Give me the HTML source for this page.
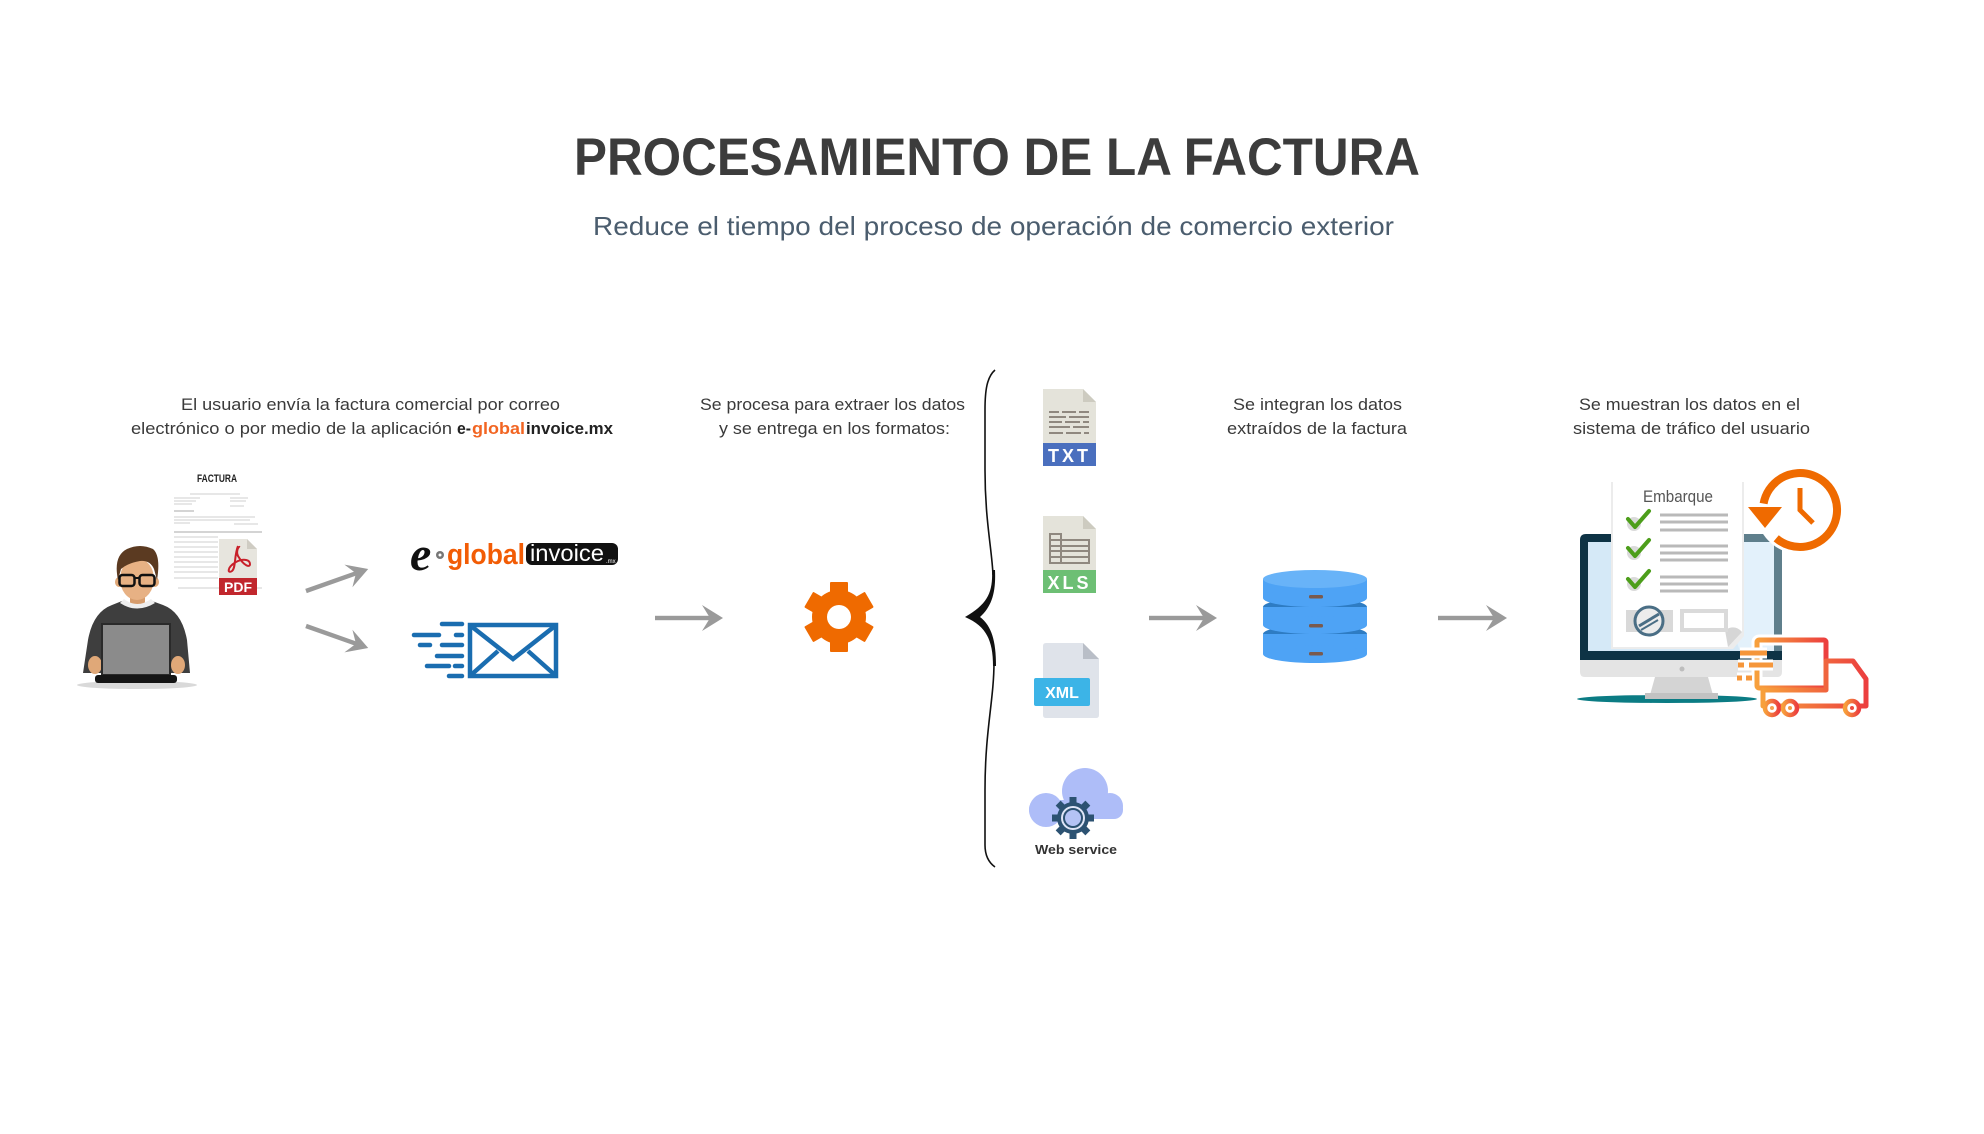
<!DOCTYPE html>
<html><head><meta charset="utf-8"><style>
html,body{margin:0;padding:0;background:#fff;}
svg{display:block;}
text{font-family:"Liberation Sans",sans-serif;}
</style></head><body>
<svg width="1984" height="1134" viewBox="0 0 1984 1134" xmlns="http://www.w3.org/2000/svg">
<defs>
<linearGradient id="tg" x1="0" y1="0" x2="1" y2="0">
<stop offset="0" stop-color="#f7a03c"/><stop offset="1" stop-color="#ec3f3f"/>
</linearGradient>
</defs>
<rect width="1984" height="1134" fill="#fff"/>

<!-- Title -->
<text x="574" y="175" font-size="53" font-weight="bold" fill="#3c3c3c" textLength="846" lengthAdjust="spacingAndGlyphs">PROCESAMIENTO DE LA FACTURA</text>
<text x="593" y="235" font-size="26" fill="#4b5d6e" textLength="801" lengthAdjust="spacingAndGlyphs">Reduce el tiempo del proceso de operación de comercio exterior</text>

<!-- Labels -->
<g font-size="17" fill="#3a3a3a">
<text x="181" y="410" textLength="379" lengthAdjust="spacingAndGlyphs">El usuario envía la factura comercial por correo</text>
<text x="131" y="434" textLength="321" lengthAdjust="spacingAndGlyphs">electrónico o por medio de la aplicación</text>
<text x="457" y="434" font-weight="bold" fill="#222" textLength="14" lengthAdjust="spacingAndGlyphs">e-</text>
<text x="472" y="434" font-weight="bold" fill="#f26522" textLength="53" lengthAdjust="spacingAndGlyphs">global</text>
<text x="526" y="434" font-weight="bold" fill="#222" textLength="87" lengthAdjust="spacingAndGlyphs">invoice.mx</text>
<text x="700" y="410" textLength="265" lengthAdjust="spacingAndGlyphs">Se procesa para extraer los datos</text>
<text x="719" y="434" textLength="231" lengthAdjust="spacingAndGlyphs">y se entrega en los formatos:</text>
<text x="1233" y="410" textLength="169" lengthAdjust="spacingAndGlyphs">Se integran los datos</text>
<text x="1227" y="434" textLength="180" lengthAdjust="spacingAndGlyphs">extraídos de la factura</text>
<text x="1579" y="410" textLength="221" lengthAdjust="spacingAndGlyphs">Se muestran los datos en el</text>
<text x="1573" y="434" textLength="237" lengthAdjust="spacingAndGlyphs">sistema de tráfico del usuario</text>
</g>

<!-- Person -->
<ellipse cx="137" cy="685" rx="60" ry="4" fill="#d9d9d9"/>
<path d="M83 673 L88 640 Q93 612 112 605 L122 601 Q137 610 152 601 L163 605 Q182 612 187 640 L190 673 Z" fill="#3e3e3e"/>
<rect x="130" y="590" width="15" height="14" fill="#d69c6c"/>
<path d="M120 603 Q137 614 155 603 L151 599 Q137 609 124 599 Z" fill="#eeeeee"/>
<ellipse cx="119" cy="582" rx="4" ry="5" fill="#e0a878"/>
<ellipse cx="155" cy="582" rx="4" ry="5" fill="#e0a878"/>
<ellipse cx="137" cy="579" rx="17" ry="21" fill="#e7b184"/>
<path d="M118 580 Q113 556 127 549 Q140 543 153 549 Q161 556 157 580 L154 569 Q150 560 140 561 Q128 563 121 569 Z" fill="#5b3a21"/>
<rect x="119.5" y="575" width="15" height="11" rx="3" fill="none" stroke="#111" stroke-width="2.5"/>
<rect x="139.5" y="575" width="15" height="11" rx="3" fill="none" stroke="#111" stroke-width="2.5"/>
<line x1="134" y1="578" x2="140" y2="578" stroke="#111" stroke-width="2"/>
<ellipse cx="95" cy="665" rx="7" ry="9" fill="#e0a878"/>
<ellipse cx="178" cy="665" rx="7" ry="9" fill="#e0a878"/>
<rect x="102" y="624" width="68" height="51" fill="#8b8b8b" stroke="#2a2a2a" stroke-width="2"/>
<rect x="95" y="675" width="82" height="8" rx="3" fill="#151515"/>

<!-- Factura document -->
<text x="197" y="482" font-size="11" font-weight="bold" fill="#222" textLength="40" lengthAdjust="spacingAndGlyphs">FACTURA</text>
<g stroke="#cfcfcf" stroke-width="1">
<line x1="190" y1="494" x2="240" y2="494"/>
<line x1="174" y1="498" x2="200" y2="498"/><line x1="230" y1="498" x2="248" y2="498"/>
<line x1="174" y1="501" x2="196" y2="501"/><line x1="230" y1="501" x2="246" y2="501"/>
<line x1="174" y1="504" x2="192" y2="504"/><line x1="230" y1="506" x2="244" y2="506"/>
<line x1="174" y1="511" x2="194" y2="511" stroke="#aaa"/>
<line x1="174" y1="517" x2="255" y2="517"/><line x1="174" y1="520" x2="250" y2="520"/>
<line x1="174" y1="523" x2="190" y2="523"/><line x1="234" y1="524" x2="258" y2="524"/>
<line x1="174" y1="532" x2="262" y2="532" stroke="#aaa"/>
<line x1="174" y1="537" x2="218" y2="537"/><line x1="174" y1="542" x2="218" y2="542"/>
<line x1="174" y1="547" x2="218" y2="547"/><line x1="174" y1="552" x2="218" y2="552"/>
<line x1="174" y1="557" x2="218" y2="557"/><line x1="174" y1="562" x2="218" y2="562"/>
<line x1="174" y1="567" x2="218" y2="567"/><line x1="174" y1="572" x2="218" y2="572"/>
<line x1="174" y1="578" x2="218" y2="578"/><line x1="178" y1="588" x2="262" y2="588"/>
</g>
<path d="M219 539 H247 L257 549 V595 H219 Z" fill="#e7e5de"/>
<path d="M247 539 V549 H257 Z" fill="#cfccc3"/>
<path d="M238 546 C234 556 236 568 232 571 C228 574 226 568 236 562 C244 558 250 560 250 564 C250 568 244 566 238 556 C236 552 238 546 240 547" fill="none" stroke="#c8202a" stroke-width="2"/>
<rect x="219" y="578" width="38" height="17" fill="#c1272d"/>
<text x="238" y="592" font-size="14" font-weight="bold" fill="#fff" text-anchor="middle">PDF</text>

<!-- diagonal arrows -->
<g transform="translate(306,591) rotate(-19.5)" fill="#9a9a9a">
<rect x="0" y="-2.2" width="56" height="4.4"/>
<polygon points="66,0 45,-12 53,0 45,12"/>
</g>
<g transform="translate(306,626) rotate(19.5)" fill="#9a9a9a">
<rect x="0" y="-2.2" width="56" height="4.4"/>
<polygon points="66,0 45,-12 53,0 45,12"/>
</g>

<!-- logo -->
<text x="410" y="570" font-family="Liberation Serif,serif" font-size="48" font-style="italic" font-weight="bold" fill="#111" style="font-family:'Liberation Serif',serif">e</text>
<circle cx="440" cy="555" r="4" fill="#777"/><circle cx="440" cy="555" r="1.5" fill="#fff"/>
<text x="447" y="564" font-size="29" font-weight="bold" fill="#f25c05" textLength="78" lengthAdjust="spacingAndGlyphs">global</text>
<rect x="526" y="543" width="92" height="22" rx="6" fill="#111"/>
<text x="530" y="561" font-size="23" fill="#fff" textLength="74" lengthAdjust="spacingAndGlyphs">invoice</text>
<text x="606" y="563" font-size="6" fill="#fff">.mx</text>

<!-- email -->
<g stroke="#1a6db0" stroke-width="4.5" stroke-linecap="round" fill="none">
<line x1="442" y1="624" x2="462" y2="624"/>
<line x1="414" y1="635" x2="439" y2="635"/><line x1="456" y1="635" x2="462" y2="635"/>
<line x1="420" y1="645" x2="430" y2="645"/><line x1="442" y1="645" x2="462" y2="645"/>
<line x1="437" y1="656" x2="462" y2="656"/>
<line x1="427" y1="666" x2="449" y2="666"/><line x1="455" y1="666" x2="462" y2="666"/>
<line x1="449" y1="676" x2="462" y2="676"/>
</g>
<g stroke="#1a6db0" stroke-width="4.5" fill="none" stroke-linejoin="miter">
<rect x="470" y="625" width="86" height="51"/>
<polyline points="471,626 513,659 555,626"/>
<line x1="471" y1="675" x2="498" y2="651"/>
<line x1="555" y1="675" x2="528" y2="651"/>
</g>

<!-- arrow 1 -->
<g fill="#9a9a9a">
<rect x="655" y="615.8" width="58" height="4.4"/>
<polygon points="723,618 702,605 710,618 702,631"/>
<rect x="1149" y="615.8" width="58" height="4.4"/>
<polygon points="1217,618 1196,605 1204,618 1196,631"/>
<rect x="1438" y="615.8" width="58" height="4.4"/>
<polygon points="1507,618 1486,605 1494,618 1486,631"/>
</g>

<!-- orange gear -->
<g transform="translate(839,617)" fill="#ef6a00">
<circle r="27"/>
<rect x="-9" y="-35" width="18" height="14" rx="1"/>
<rect x="-9" y="-35" width="18" height="14" rx="1" transform="rotate(60)"/>
<rect x="-9" y="-35" width="18" height="14" rx="1" transform="rotate(120)"/>
<rect x="-9" y="-35" width="18" height="14" rx="1" transform="rotate(180)"/>
<rect x="-9" y="-35" width="18" height="14" rx="1" transform="rotate(240)"/>
<rect x="-9" y="-35" width="18" height="14" rx="1" transform="rotate(300)"/>
<circle r="12" fill="#fff"/>
</g>

<!-- brace -->
<path d="M995 370 C987 377 985 390 985 410 L985 470 C985 520 992 550 993 575 M994 662 C994 700 985 730 985 790 L985 845 C985 855 988 862 995 867" fill="none" stroke="#111" stroke-width="1.6"/>
<path d="M992 570 C993 592 988 604 965 617 C986 626 993 640 993 666 L996 666 C996 642 992 626 980 617 C992 606 996 592 995 570 Z" fill="#111"/>

<!-- TXT -->
<path d="M1043 389 H1083 L1096 402 V466 H1043 Z" fill="#e4e3da"/>
<path d="M1083 389 V402 H1096 Z" fill="#cdcbc0"/>
<g stroke="#8f887f" stroke-width="2">
<line x1="1049" y1="412" x2="1059" y2="412"/><line x1="1062" y1="412" x2="1076" y2="412"/><line x1="1079" y1="412" x2="1089" y2="412"/>
<line x1="1049" y1="417" x2="1066" y2="417"/><line x1="1069" y1="417" x2="1089" y2="417"/>
<line x1="1049" y1="422" x2="1062" y2="422"/><line x1="1065" y1="422" x2="1080" y2="422"/><line x1="1083" y1="422" x2="1089" y2="422"/>
<line x1="1049" y1="427" x2="1070" y2="427"/><line x1="1073" y1="427" x2="1089" y2="427"/>
<line x1="1049" y1="433" x2="1063" y2="433"/><line x1="1066" y1="433" x2="1081" y2="433"/><line x1="1084" y1="433" x2="1089" y2="433"/>
</g>
<rect x="1043" y="443" width="53" height="23" fill="#4a6fbe"/>
<text x="1069.5" y="462" font-size="18" font-weight="bold" fill="#fff" text-anchor="middle" letter-spacing="3">TXT</text>

<!-- XLS -->
<path d="M1043 516 H1083 L1096 529 V593 H1043 Z" fill="#e4e3da"/>
<path d="M1083 516 V529 H1096 Z" fill="#cdcbc0"/>
<g stroke="#8f887f" stroke-width="2" fill="none">
<rect x="1050" y="534" width="11" height="6"/>
<rect x="1050" y="540" width="39" height="23"/>
<line x1="1050" y1="546" x2="1089" y2="546"/><line x1="1050" y1="551" x2="1089" y2="551"/><line x1="1050" y1="557" x2="1089" y2="557"/>
<line x1="1061" y1="540" x2="1061" y2="563"/>
</g>
<rect x="1043" y="570" width="53" height="23" fill="#6dbf74"/>
<text x="1069.5" y="589" font-size="18" font-weight="bold" fill="#fff" text-anchor="middle" letter-spacing="3">XLS</text>

<!-- XML -->
<path d="M1046 643 H1083 L1099 659 V715 Q1099 718 1096 718 H1046 Q1043 718 1043 715 V646 Q1043 643 1046 643 Z" fill="#dfe3ea"/>
<path d="M1083 643 V659 H1099 Z" fill="#b9bec7"/>
<rect x="1034" y="678" width="56" height="28" rx="2" fill="#3cb4e7"/>
<text x="1062" y="698" font-size="16" font-weight="bold" fill="#fff" text-anchor="middle">XML</text>

<!-- cloud + gear -->
<g fill="#aebdf8">
<circle cx="1085" cy="791" r="23"/>
<circle cx="1046" cy="810" r="17"/>
<circle cx="1110" cy="806" r="13"/>
<rect x="1029" y="800" width="94" height="19" rx="9"/>
</g>
<g transform="translate(1073,818)" fill="#2c5272">
<circle r="16"/>
<rect x="-3.5" y="-21" width="7" height="7" />
<rect x="-3.5" y="-21" width="7" height="7" transform="rotate(45)"/>
<rect x="-3.5" y="-21" width="7" height="7" transform="rotate(90)"/>
<rect x="-3.5" y="-21" width="7" height="7" transform="rotate(135)"/>
<rect x="-3.5" y="-21" width="7" height="7" transform="rotate(180)"/>
<rect x="-3.5" y="-21" width="7" height="7" transform="rotate(225)"/>
<rect x="-3.5" y="-21" width="7" height="7" transform="rotate(270)"/>
<rect x="-3.5" y="-21" width="7" height="7" transform="rotate(315)"/>
<circle r="12" fill="#dfe6f7"/>
<circle r="9" fill="#b4c3f5" stroke="#2c5272" stroke-width="2"/>
</g>
<text x="1035" y="854" font-size="13" font-weight="bold" fill="#333" textLength="82" lengthAdjust="spacingAndGlyphs">Web service</text>

<!-- database -->
<g>
<ellipse cx="1315" cy="634" rx="52" ry="9" fill="#2e7cc3"/>
<rect x="1263" y="634" width="104" height="20" fill="#4ea3f5"/>
<ellipse cx="1315" cy="654" rx="52" ry="9" fill="#4ea3f5"/>
<ellipse cx="1315" cy="607" rx="52" ry="9" fill="#2e7cc3"/>
<rect x="1263" y="607" width="104" height="18" fill="#4ea3f5"/>
<ellipse cx="1315" cy="625" rx="52" ry="9" fill="#4ea3f5"/>
<rect x="1263" y="579" width="104" height="19" fill="#4ea3f5"/>
<ellipse cx="1315" cy="598" rx="52" ry="9" fill="#4ea3f5"/>
<ellipse cx="1315" cy="579" rx="52" ry="9" fill="#68b3f8"/>
<rect x="1309" y="595" width="14" height="3.5" rx="1.5" fill="#7a5a4d"/>
<rect x="1309" y="624" width="14" height="3.5" rx="1.5" fill="#7a5a4d"/>
<rect x="1309" y="652" width="14" height="3.5" rx="1.5" fill="#7a5a4d"/>
</g>

<!-- monitor -->
<ellipse cx="1667" cy="699" rx="90" ry="4" fill="#0b7c84"/>
<polygon points="1655,677 1708,677 1713,695 1650,695" fill="#d4d4d4"/>
<rect x="1645" y="693" width="73" height="6" fill="#c2c2c2"/>
<path d="M1580 660 H1782 V672 Q1782 677 1777 677 H1585 Q1580 677 1580 672 Z" fill="#e4e4e4"/>
<circle cx="1682" cy="669" r="2.5" fill="#bdbdbd"/>
<path d="M1586 534 H1776 Q1782 534 1782 540 V660 H1580 V540 Q1580 534 1586 534 Z" fill="#0e3345"/>
<path d="M1742 534 H1776 Q1782 534 1782 540 V651 H1774 V542 H1742 Z" fill="#5f7f8c"/>
<rect x="1588" y="542" width="186" height="109" fill="#d5e9f7"/>
<polygon points="1700,542 1774,542 1774,651 1740,651" fill="#e3f1fb"/>

<!-- document -->
<path d="M1611 482 H1744 V636 L1733 649 H1611 Z" fill="#ececec"/>
<path d="M1613 480 H1742 V632 L1728 647 H1613 Z" fill="#fff"/>
<path d="M1742 632 L1728 647 L1725 630 Q1735 624 1742 632 Z" fill="#d6d6d6"/>
<text x="1643" y="502" font-size="17" fill="#555" textLength="70" lengthAdjust="spacingAndGlyphs">Embarque</text>
<g fill="#dadada">
<circle cx="1634" cy="524" r="7"/><circle cx="1634" cy="553" r="7"/><circle cx="1634" cy="584" r="7"/>
</g>
<g fill="none" stroke="#4d9e1b" stroke-width="4" stroke-linecap="round" stroke-linejoin="round">
<polyline points="1628,519 1635,527 1649,511"/>
<polyline points="1628,548 1635,556 1649,540"/>
<polyline points="1628,579 1635,587 1649,571"/>
</g>
<g stroke="#b9b9b9" stroke-width="3">
<line x1="1660" y1="515" x2="1728" y2="515"/><line x1="1660" y1="522" x2="1728" y2="522"/><line x1="1660" y1="530" x2="1728" y2="530"/>
<line x1="1660" y1="546" x2="1728" y2="546"/><line x1="1660" y1="553" x2="1728" y2="553"/><line x1="1660" y1="560" x2="1728" y2="560"/>
<line x1="1660" y1="577" x2="1728" y2="577"/><line x1="1660" y1="584" x2="1728" y2="584"/><line x1="1660" y1="591" x2="1728" y2="591"/>
</g>
<rect x="1626" y="610" width="47" height="22" fill="#d9d9d9"/>
<circle cx="1649" cy="621" r="14" fill="#ececec" stroke="#4a6e85" stroke-width="3"/>
<line x1="1639" y1="626" x2="1659" y2="614" stroke="#4a6e85" stroke-width="3"/>
<line x1="1641" y1="630" x2="1658" y2="620" stroke="#4a6e85" stroke-width="2"/>
<rect x="1682" y="611" width="44" height="19" fill="none" stroke="#dadada" stroke-width="4"/>

<!-- clock -->
<circle cx="1800" cy="510" r="44" fill="#fff"/>
<path d="M1763.6 503.6 A37 37 0 1 1 1776.2 538.3" fill="none" stroke="#ef6a00" stroke-width="8"/>
<polygon points="1748,507 1782,507 1765,528" fill="#ef6a00"/>
<polyline points="1800,488 1800,510 1813,523" fill="none" stroke="#ef6a00" stroke-width="5"/>

<!-- truck -->
<g fill="none" stroke="url(#tg)" stroke-width="5" stroke-linejoin="round">
<rect x="1757" y="640" width="69" height="48" rx="2" stroke="#fff" stroke-width="11"/>
<rect x="1757" y="640" width="69" height="48" rx="2"/>
<path d="M1826 661 H1853 L1866 679 V706 H1763 V690 H1826 Z"/>
<line x1="1826" y1="679" x2="1866" y2="679"/>
</g>
<g fill="#fff" stroke="url(#tg)" stroke-width="4.5">
<circle cx="1772" cy="708" r="7"/>
<circle cx="1790" cy="708" r="7"/>
<circle cx="1852" cy="708" r="7"/>
</g>
<g fill="#f28a35">
<circle cx="1772" cy="708" r="2" fill="#f5a050"/>
<circle cx="1790" cy="708" r="2" fill="#f39a45"/>
<circle cx="1852" cy="708" r="2" fill="#ee4a3e"/>
</g>
<g stroke="#fff" stroke-width="11" stroke-linecap="butt">
<line x1="1740" y1="653" x2="1767" y2="653"/>
<line x1="1738" y1="665" x2="1773" y2="665"/>
<line x1="1737" y1="678" x2="1752" y2="678"/>
</g>
<g stroke="#f5963a" stroke-width="5">
<line x1="1740" y1="653" x2="1767" y2="653"/>
<line x1="1738" y1="665" x2="1744" y2="665"/><line x1="1749" y1="665" x2="1773" y2="665"/>
<line x1="1737" y1="678" x2="1742" y2="678"/><line x1="1746" y1="678" x2="1752" y2="678"/>
</g>
</svg>
</body></html>
